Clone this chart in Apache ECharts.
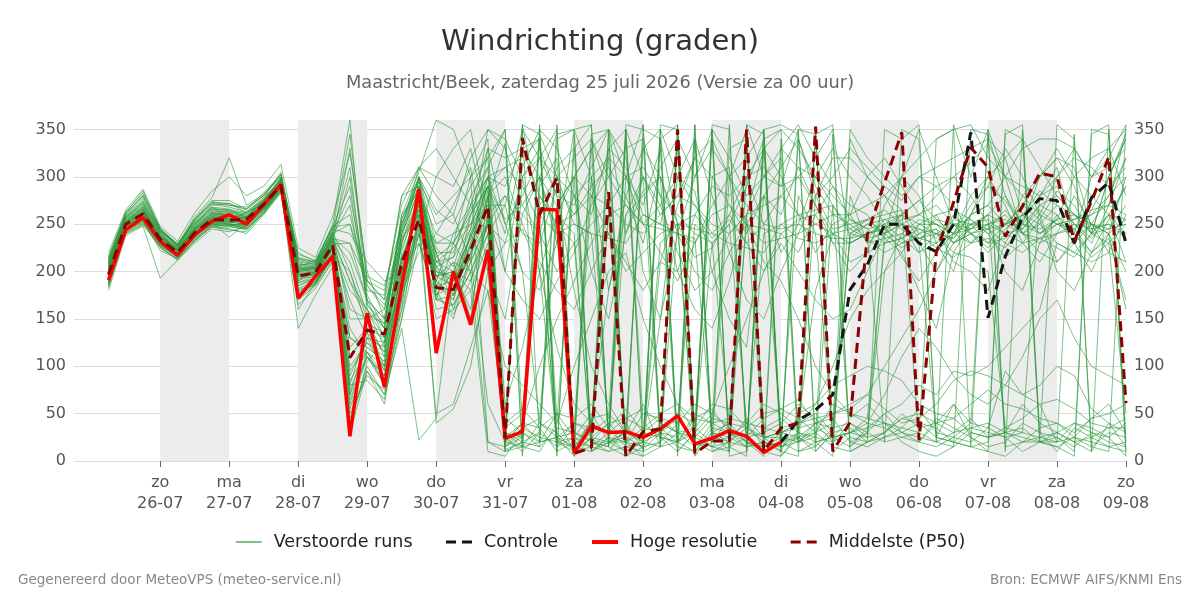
<!DOCTYPE html>
<html>
<head>
<meta charset="utf-8">
<title>Windrichting</title>
<script src="https://cdn.jsdelivr.net/npm/echarts@6/dist/echarts.min.js"></script>
<style>
  html, body { margin: 0; padding: 0; background: #fff; }
  #chart { width: 1200px; height: 600px; }
</style>
</head>
<body>
<div id="chart"></div>
<script>
// tijdstappen van 6 uur, eerste waarde za 25-07 06 uur (UTC)
var STEP = 6 * 3600 * 1000;
var runStart = Date.UTC(2026, 6, 25, 6);
var controlStart = Date.UTC(2026, 7, 4, 0);

var dayNames = ["zo", "ma", "di", "wo", "do", "vr", "za"];
var dayTicks = ["2026-07-26", "2026-07-27", "2026-07-28", "2026-07-29", "2026-07-30", "2026-07-31", "2026-08-01",
  "2026-08-02", "2026-08-03", "2026-08-04", "2026-08-05", "2026-08-06", "2026-08-07", "2026-08-08", "2026-08-09"];
var shadedDays = ["2026-07-26", "2026-07-28", "2026-07-30", "2026-08-01", "2026-08-03", "2026-08-05", "2026-08-07"];
var yTicks = [0, 50, 100, 150, 200, 250, 300, 350];

// hoge resolutie (tot 04-08 00 uur)
var hres = [191, 244, 257, 232, 217, 239, 253, 260, 250, 271, 292, 172, 195, 216, 26, 156, 78, 185, 287,
  114, 200, 144, 223, 24, 31, 266, 265, 8, 37, 30, 31, 25, 34, 48, 18, 24, 32, 26, 9, 20];

// middelste (P50)
var p50 = [197, 250, 261, 234, 220, 241, 255, 254, 255, 271, 291, 195, 199, 228, 109, 138, 134, 209, 255,
  183, 181, 223, 269, 24, 341, 260, 299, 8, 14, 284, 5, 31, 34, 350, 8, 21, 21, 350, 10, 35, 40, 353, 10,
  41, 239, 294, 347, 22, 220, 273, 331, 310, 237, 269, 304, 300, 232, 274, 321, 61];

// controle (zichtbaar vanaf 04-08 00 uur)
var controle = [20, 43, 54, 70, 181, 207, 250, 250, 230, 221, 250, 347, 151, 216, 257, 277, 275, 230, 278, 294, 230];

// verstoorde runs
var members = [
  [205,255,268, 240,222,246,262, 262,258,275,296, 200,205,238,70, 130,95,210,275, 195,185,230,280, 30,25,290,320, 15,40,260,20, 35,30,25,340, 20,45,300,250, 35,40,50,30, 240,250,255,245, 230,25,60,40, 345,280,250,270, 260,230,265,300, 340],
  [188,245,255, 228,215,238,250, 248,252,268,288, 185,192,222,55, 110,80,190,285, 170,175,210,255, 18,35,45,270, 300,20,15,350, 40,25,10,30, 230,250,40,15, 25,280,240,25, 30,45,230,235, 250,240,220,215, 200,35,30,280, 310,240,220,255, 290],
  [215,262,285, 245,228,258,278, 320,270,282,300, 215,210,250,360, 160,120,240,300, 210,225,250,290, 255,270,300,345, 350,355,20,10, 5,340,250,15, 40,30,25,240, 250,235,230,240, 255,245,250,260, 250,250,240,245, 260,250,255,280, 290,250,230,270, 350],
  [180,238,248, 193,212,230,245, 242,248,265,285, 160,188,215,45, 95,60,170,250, 160,165,200,240, 12,20,15,35, 30,22,18,40, 12,30,45,20, 10,15,25,30, 40,60,45,25, 15,35,50,30, 20,45,35,25, 15,20,40,30, 10,35,25,15, 20],
  [200,252,265, 236,225,248,270, 272,262,278,305, 205,198,240,150, 150,110,230,290, 225,205,260,310, 35,300,330,280, 270,310,350,240, 285,300,250,215, 225,260,300,330, 350,20,40,35, 280,230,245,230, 235,245,210,200, 180,230,260,250, 270,260,240,300, 345],
  [193,248,258, 230,218,236,256, 250,245,262,290, 190,200,226,95, 125,100,200,270, 185,180,220,260, 25,40,350,20, 10,45,50,30, 60,15,355,25, 45,40,35,50, 55,45,30,60, 50,45,40,35, 55,30,25,40, 35,95,70,80, 100,90,55,40, 30],
  [210,258,275, 242,230,252,268, 255,262,272,292, 205,212,232,300, 175,140,260,305, 360,350,300,340, 20,355,345,300, 250,240,35,15, 20,210,200,260, 290,280,300,310, 290,350,345,20, 240,235,255,260, 235,230,260,240, 230,235,250,300, 320,310,245,250, 240],
  [185,242,252, 225,213,232,248, 245,240,260,283, 170,185,210,40, 100,70,160,240, 150,160,180,230, 10,20,30,15, 25,15,10,35, 20,15,30,25, 15,35,20,15, 20,25,10,30, 35,20,30,45, 40,25,20,35, 30,25,10,20, 25,15,30,20, 15],
  [220,265,287, 248,232,262,285, 300,280,290,313, 225,215,258,325, 200,150,250,300, 230,240,270,300, 250,280,320,350, 5,340,300,270, 250,245,240,230, 260,270,250,245, 240,255,260,230, 230,240,250,235, 245,240,235,260, 270,300,290,280, 300,330,300,320, 355],
  [195,246,260, 234,220,242,258, 256,255,270,292, 195,198,228,120, 140,115,220,280, 200,190,240,270, 45,30,280,250, 230,20,40,45, 35,50,60,45, 40,330,340,35, 30,40,180,240, 210,220,230,235, 220,230,240,250, 255,240,230,235, 250,240,215,230, 50],
  [203,250,263, 238,223,244,259, 258,256,270,290, 210,202,235,230, 190,180,270,310, 300,290,330,250, 20,15,10,40, 300,280,320,20, 15,40,30,355, 10,20,15,340, 15,30,25,20, 40,30,50,60, 80,70,95,90, 100,120,140,160, 230,220,240,260, 210],
  [190,240,250, 232,217,239,252, 236,252,266,289, 140,175,205,80, 85,65,150,260, 40,55,100,200, 15,25,250,15, 35,300,25,10, 20,30,15,10, 20,25,40,35, 45,30,20,25, 45,60,40,30, 25,20,30,45, 25,30,35,20, 30,40,35,25, 5],
  [212,260,280, 244,226,254,272, 270,268,280,300, 220,210,245,240, 210,190,200,230, 170,230,260,290, 310,320,340,25, 40,30,350,300, 270,330,20,35, 20,300,350,25, 10,340,280,245, 250,255,240,250, 230,260,265,255, 240,215,230,255, 285,270,240,260, 255],
  [198,249,262, 235,219,240,254, 252,250,268,290, 198,196,226,180, 160,130,210,265, 175,200,190,240, 40,55,35,50, 45,60,35,55, 30,45,40,60, 50,35,25,45, 55,65,40,50, 60,70,55,40, 45,60,85,95, 90,80,70,60, 65,55,40,35, 45],
  [207,257,272, 241,224,247,265, 265,260,276,298, 203,206,242,200, 150,160,250,290, 180,150,220,300, 200,310,350,330, 280,300,320,300, 250,270,300,285, 200,240,260,300, 290,300,320,350, 230,240,245,255, 260,250,240,260, 290,275,250,240, 255,230,200,240, 300],
  [185,243,254, 222,214,234,249, 248,244,262,286, 175,190,215,60, 115,90,185,255, 195,210,150,280, 30,20,300,240, 20,15,30,260, 300,20,250,5, 30,10,260,15, 20,10,15,270, 20,30,200,240, 235,240,250,245, 260,30,20,20, 15,25,45,60, 30],
  [202,252,266, 237,221,244,261, 260,256,272,294, 190,200,232,130, 120,105,205,275, 190,170,240,200, 230,245,200,20, 15,30,45,355, 350,340,355,20, 350,5,10,330, 5,30,350,10, 25,20,30,50, 35,40,45,30, 25,35,45,60, 20,40,30,25, 40],
  [208,256,270, 243,227,250,266, 265,258,275,299, 212,207,240,250, 180,175,280,290, 210,215,280,310, 350,40,20,50, 25,280,240,200, 220,240,250,260, 235,255,230,250, 245,250,240,235, 235,250,240,225, 240,255,250,230, 250,240,245,270, 280,260,250,245, 270],
  [194,247,259, 229,216,237,253, 253,249,267,289, 185,194,224,35, 105,125,235,260, 230,230,300,20, 15,30,20,25, 5,25,40,20, 50,45,30,15, 25,20,35,20, 15,25,30,40, 350,320,300,280, 300,310,320,330, 340,320,260,240, 255,300,320,330, 350],
  [200,251,264, 236,222,245,257, 254,258,270,292, 200,202,230,80, 140,100,160,300, 170,165,200,250, 280,260,240,310, 330,20,10,15, 10,20,350,10, 30,25,15,20, 10,50,60,100, 150,180,200,220, 250,260,230,250, 260,280,240,250, 230,220,210,220, 210],
  [216,263,283, 246,229,256,275, 275,266,283,303, 218,212,247,290, 165,145,255,295, 190,240,250,270, 270,200,40,30, 10,25,20,30, 340,30,50,40, 300,310,30,25, 30,25,40,45, 20,15,25,35, 30,20,355,300, 350,300,240,235, 240,245,220,235, 170],
  [183,240,249, 226,212,233,247, 244,242,262,284, 165,182,212,50, 90,75,175,245, 50,60,120,180, 30,15,20,25, 15,10,25,20, 5,15,20,10, 35,30,15,20, 15,20,35,25, 30,40,35,25, 20,15,25,20, 35,25,30,25, 30,20,25,35, 35],
  [198,250,262, 233,221,243,256, 257,252,271,293, 205,203,236,220, 170,150,260,285, 220,220,270,330, 320,330,300,270, 300,330,20,30, 25,230,250,245, 240,230,225,220, 250,260,265,270, 245,255,260,265, 240,245,230,240, 250,255,245,265, 250,255,260,270, 260],
  [192,246,256, 231,218,238,252, 251,247,266,288, 188,193,220,110, 135,95,195,280, 175,185,215,60, 20,40,35,10, 20,40,30,300, 355,25,20,50, 40,45,40,60, 50,35,40,20, 30,35,40,20, 10,5,15,30, 25,30,60,40, 30,20,10,40, 15],
  [206,254,268, 239,223,246,263, 263,257,274,295, 198,200,234,190, 145,135,230,275, 200,195,235,290, 20,355,260,240, 250,240,235,230, 260,250,240,235, 30,40,250,230, 235,240,250,260, 260,230,235,240, 255,250,230,245, 250,260,240,230, 240,250,245,250, 235],
  [187,244,253, 227,216,235,249, 249,246,263,286, 180,189,218,65, 110,85,180,250, 185,170,230,265, 15,35,25,20, 40,35,30,45, 55,40,30,35, 60,55,35,25, 30,35,60,80, 90,100,95,85, 60,50,45,60, 75,60,55,45, 40,30,45,50, 60],
  [211,259,277, 243,228,253,271, 268,263,278,297, 208,206,244,345, 190,170,245,310, 280,260,210,250, 35,50,270,300, 320,340,280,30, 330,300,10,30, 355,350,20,5, 330,310,300,280, 260,270,280,300, 320,340,350,355, 320,300,330,340, 340,330,300,310, 330],
  [196,248,261, 234,219,240,255, 255,253,269,291, 195,197,227,100, 125,110,215,260, 185,210,200,20, 10,15,40,25, 30,20,15,5, 25,35,20,30, 15,20,45,25, 25,20,30,15, 10,20,25,30, 40,35,20,15, 10,5,20,35, 40,25,20,15, 10],
  [213,261,279, 245,227,255,273, 272,265,281,302, 213,209,248,260, 185,165,225,270, 210,200,160,260, 280,240,230,290, 260,280,270,250, 240,260,280,270, 250,240,260,270, 280,260,250,240, 245,235,240,250, 245,235,255,250, 245,230,220,235, 225,215,240,245, 250],
  [189,245,256, 229,217,237,251, 250,249,265,287, 178,186,216,85, 115,80,150,230, 175,155,190,250, 25,10,30,260, 240,10,20,25, 15,20,40,250, 230,40,20,10, 5,25,15,35, 40,25,30,45, 50,40,30,35, 40,30,25,20, 20,25,15,30, 25],
  [204,253,266, 238,224,245,260, 261,255,273,295, 202,204,236,160, 150,125,240,285, 205,215,245,300, 310,290,250,20, 25,50,20,20, 30,25,20,45, 55,30,20,15, 30,40,45,50, 55,70,100,130, 160,200,230,240, 245,250,260,240, 250,255,265,270, 320],
  [199,250,263, 235,221,242,257, 256,254,270,292, 197,199,229,230, 170,130,210,265, 220,175,260,290, 240,330,340,45, 10,15,330,310, 260,250,330,20, 15,10,355,300, 320,10,20,25, 30,25,240,300, 350,300,250,255, 240,250,270,300, 320,290,240,300, 340],
  [201,251,264, 236,222,244,258, 258,255,271,293, 200,203,231,75, 120,105,200,270, 195,200,235,285, 10,350,20,355, 15,345,350,10, 355,15,340,20, 350,10,355,345, 15,350,10,30, 235,240,20,25, 30,340,350,15, 20,345,355,30, 25,10,350,345, 5],
  [196,247,259, 231,219,239,253, 252,251,267,289, 192,195,225,140, 110,90,180,260, 205,190,225,275, 335,15,355,5, 345,10,25,350, 10,350,5,340, 20,355,10,350, 10,5,345,355, 10,20,350,340, 355,20,15,350, 345,10,350,20, 355,340,10,350, 10],
  [209,257,273, 242,226,250,267, 264,261,276,297, 207,208,241,310, 165,140,255,300, 265,250,290,320, 350,5,340,10, 330,355,15,340, 20,355,350,15, 340,15,5,350, 355,345,20,5, 340,300,280,265, 20,40,60,25, 10,350,340,20, 15,5,345,355, 20],
  [186,241,251, 226,214,233,247, 247,245,261,285, 172,187,214,30, 95,70,140,22, 45,200,180,10, 5,30,15,340, 350,20,345,5, 15,340,20,355, 30,20,345,15, 340,20,25,345, 15,30,20,350, 340,25,20,15, 350,15,20,25, 20,345,15,10, 355],
  [197,249,260, 233,220,241,255, 253,254,270,291, 193,197,226,170, 130,120,230,280, 220,160,210,330, 250,200,180,230, 280,200,150,240, 300,270,220,180, 200,150,120,280, 260,310,270,230, 200,220,270,300, 280,230,200,260, 300,270,230,210, 240,280,250,220, 260],
  [203,253,267, 238,223,245,261, 259,257,273,294, 201,204,235,210, 155,145,240,285, 240,270,310,200, 150,260,300,230, 350,300,180,280, 230,310,340,300, 330,300,250,280, 220,250,300,330, 300,280,250,215, 190,220,240,270, 290,330,300,260, 210,230,250,280, 300],
  [191,245,256, 230,218,238,253, 250,248,266,288, 182,190,219,130, 115,100,190,250, 205,180,240,290, 60,120,200,260, 300,330,350,320, 200,150,240,300, 350,320,280,300, 330,355,320,290, 270,260,235,220, 180,140,220,250, 230,250,270,255, 200,180,220,240, 160],
  [208,256,271, 241,225,249,264, 263,259,275,297, 206,205,239,270, 170,150,190,240, 300,330,350,260, 200,170,150,190, 220,270,300,330, 340,280,200,160, 140,190,260,330, 300,260,220,250, 260,300,320,290, 260,280,300,280, 250,200,180,230, 260,240,300,330, 280],
  [194,247,259, 232,219,240,254, 254,252,268,290, 188,196,224,90, 130,125,215,265, 195,200,245,350, 340,300,320,280, 180,100,60,30, 20,150,300,340, 280,220,170,150, 200,240,280,320, 320,300,280,250, 230,200,240,280, 300,320,340,310, 280,260,240,230, 250],
  [210,258,274, 244,227,251,268, 266,262,276,298, 210,208,242,280, 185,160,235,300, 250,260,320,350, 330,270,240,200, 230,250,270,300, 310,280,260,240, 230,250,290,340, 350,330,300,270, 240,255,265,250, 220,240,235,260, 270,250,240,260, 300,320,310,290, 310],
  [188,243,253, 228,216,236,250, 249,246,264,287, 176,188,217,70, 110,90,170,240, 190,175,220,250, 230,300,200,120, 60,40,180,260, 280,300,240,200, 180,220,250,210, 190,150,100,70, 50,40,70,110, 140,120,90,70, 60,80,110,150, 170,130,100,90, 80],
  [205,254,269, 239,224,247,262, 260,258,274,296, 203,203,236,190, 160,140,245,290, 215,230,265,300, 290,330,280,250, 260,290,310,280, 330,350,300,270, 240,260,230,200, 240,220,260,290, 255,245,230,250, 260,270,250,240, 225,245,260,285, 270,250,235,260, 290],
  [199,249,262, 234,220,242,256, 256,253,270,291, 196,200,230,110, 135,115,200,275, 185,190,215,280, 300,250,210,180, 160,200,240,210, 180,210,270,320, 300,270,240,280, 310,340,290,260, 250,235,220,230, 240,225,215,230, 245,265,240,220, 210,235,250,240, 200],
  [214,261,281, 245,228,255,274, 270,266,280,302, 214,210,247,250, 195,185,250,295, 260,280,300,320, 20,40,100,150, 190,230,260,270, 250,220,190,230, 270,300,320,350, 20,30,280,300, 330,310,290,275, 300,290,270,240, 220,240,280,300, 330,300,280,260, 240],
  [190,244,255, 229,217,237,251, 250,249,266,288, 180,187,218,200, 140,130,180,220, 240,230,200,180, 100,80,60,40, 100,150,200,220, 150,100,60,30, 50,100,150,200, 230,200,170,150, 160,200,240,260, 275,255,240,230, 235,225,250,245, 255,260,250,240, 255],
  [202,252,266, 237,222,244,259, 259,256,272,294, 199,201,233,330, 190,170,280,310, 330,300,270,240, 270,350,320,300, 280,260,330,350, 300,260,280,320, 340,300,270,250, 280,300,270,240, 230,240,245,260, 275,290,300,315, 335,300,280,260, 250,245,260,280, 320]
];

function toPairs(values, start) {
  return values.map(function (v, i) { return [start + i * STEP, v]; });
}
function dayMs(d) { return Date.parse(d + "T00:00:00Z"); }
function pad(n) { return (n < 10 ? "0" : "") + n; }

var chart = echarts.init(document.getElementById("chart"));

var series = [];
// achtergrond: grijze dagbanden
series.push({
  type: "line",
  data: [],
  silent: true,
  z: 1,
  markArea: {
    silent: true,
    itemStyle: { color: "#ececec" },
    data: shadedDays.map(function (d) {
      return [{ xAxis: dayMs(d) }, { xAxis: dayMs(d) + 24 * 3600 * 1000 }];
    })
  }
});
members.forEach(function (m) {
  series.push({
    name: "Verstoorde runs",
    type: "line",
    data: toPairs(m, runStart),
    symbol: "none",
    silent: true,
    z: 2,
    lineStyle: { color: "rgba(40,150,55,0.6)", width: 1 },
    itemStyle: { color: "rgba(40,150,55,0.6)" }
  });
});
series.push({
  name: "Controle",
  type: "line",
  data: toPairs(controle, controlStart),
  symbol: "none",
  z: 3,
  lineStyle: { color: "#151515", width: 3, type: [10, 6] },
  itemStyle: { color: "#151515" }
});
series.push({
  name: "Hoge resolutie",
  type: "line",
  data: toPairs(hres, runStart),
  symbol: "none",
  z: 4,
  lineStyle: { color: "#ff0000", width: 3.5 },
  itemStyle: { color: "#ff0000" }
});
series.push({
  name: "Middelste (P50)",
  type: "line",
  data: toPairs(p50, runStart),
  symbol: "none",
  z: 5,
  lineStyle: { color: "#8b0000", width: 3, type: [10, 6] },
  itemStyle: { color: "#8b0000" }
});

var yAxisBase = {
  type: "value",
  min: 0,
  max: 360,
  interval: 50,
  axisLine: { show: false },
  axisTick: { show: false, customValues: yTicks },
  axisLabel: { customValues: yTicks, color: "#555", fontSize: 16, margin: 8 }
};

var option = {
  animation: false,
  textStyle: { fontFamily: "DejaVu Sans" },
  title: {
    text: "Windrichting (graden)",
    subtext: "Maastricht/Beek, zaterdag 25 juli 2026 (Versie za 00 uur)",
    left: "center",
    top: 23,
    itemGap: 17,
    textStyle: { fontSize: 29, fontWeight: "normal", color: "#333" },
    subtextStyle: { fontSize: 17.8, color: "#666" }
  },
  legend: {
    data: [
      { name: "Verstoorde runs" },
      { name: "Controle", lineStyle: { type: [10, 6], width: 3 } },
      { name: "Hoge resolutie", lineStyle: { width: 4 } },
      { name: "Middelste (P50)", lineStyle: { type: [10, 6], width: 3 } }
    ],
    top: 528,
    left: "center",
    itemWidth: 26,
    itemHeight: 14,
    itemGap: 32,
    itemStyle: { opacity: 0 },
    textStyle: { fontSize: 17.5, color: "#222", padding: [0, 0, 0, 7] }
  },
  grid: { left: 74, right: 74, top: 120, bottom: 139 },
  xAxis: {
    type: "value",
    min: Date.UTC(2026, 6, 24, 18),
    max: Date.UTC(2026, 7, 9, 0),
    axisLine: { show: false },
    splitLine: { show: false },
    axisTick: {
      show: true,
      customValues: dayTicks.map(dayMs),
      length: 6,
      lineStyle: { color: "#666" }
    },
    axisLabel: {
      customValues: dayTicks.map(dayMs),
      color: "#555",
      fontSize: 16,
      lineHeight: 21,
      margin: 11,
      formatter: function (v) {
        var d = new Date(v);
        return dayNames[d.getUTCDay()] + "\n" + pad(d.getUTCDate()) + "-" + pad(d.getUTCMonth() + 1);
      }
    }
  },
  yAxis: [
    Object.assign({}, yAxisBase, { position: "left", splitLine: { lineStyle: { color: "#dcdcdc" } } }),
    Object.assign({}, yAxisBase, { position: "right", splitLine: { show: false } })
  ],
  graphic: [
    {
      type: "text", left: 18, top: 573,
      style: { text: "Gegenereerd door MeteoVPS (meteo-service.nl)", fill: "#888", fontSize: 13.5, fontFamily: "DejaVu Sans" }
    },
    {
      type: "text", right: 18, top: 573,
      style: { text: "Bron: ECMWF AIFS/KNMI Ens", fill: "#888", fontSize: 13.5, fontFamily: "DejaVu Sans" }
    }
  ],
  series: series
};

chart.setOption(option);
</script>
</body>
</html>
